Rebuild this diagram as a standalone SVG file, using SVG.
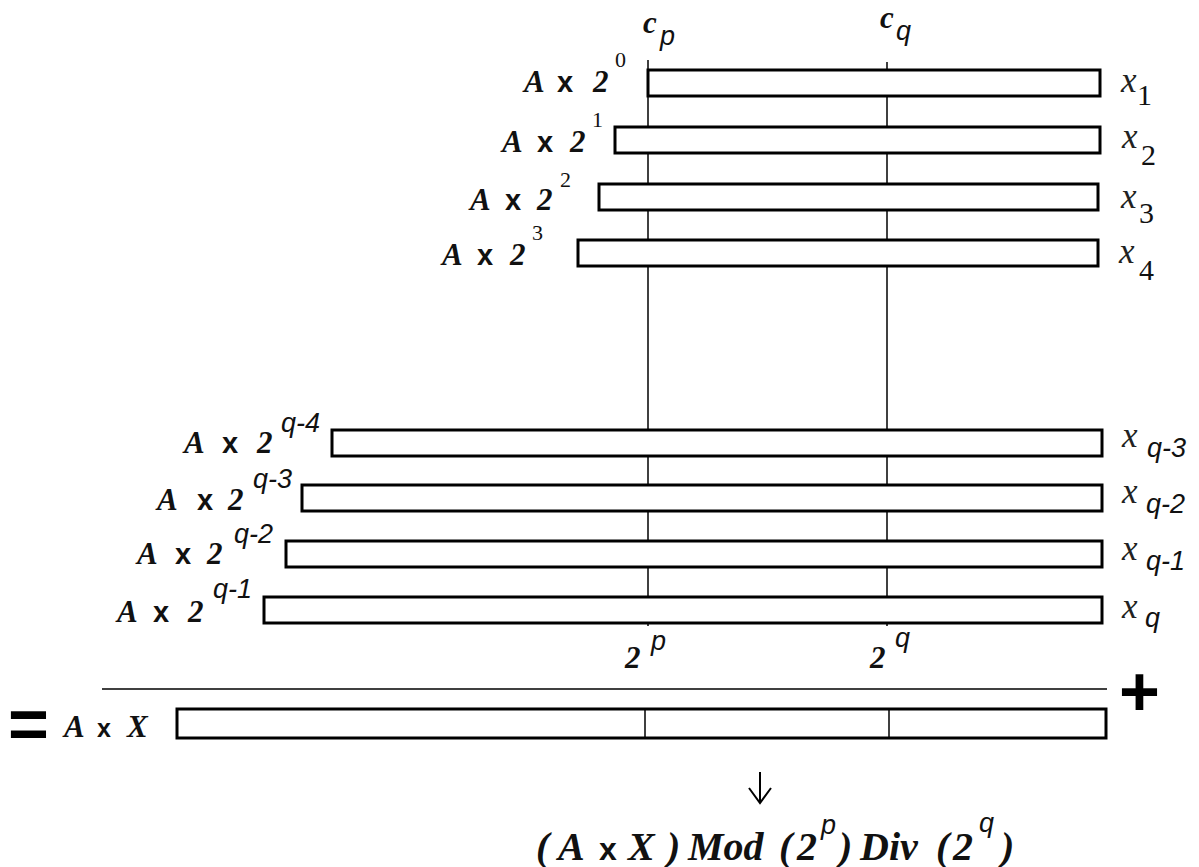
<svg xmlns="http://www.w3.org/2000/svg" width="1199" height="867" viewBox="0 0 1199 867">
<style>
.bar{fill:#fff;stroke:#000;stroke-width:3}
.ln{stroke:#000;stroke-width:1.5;fill:none}
.A{font-family:'Liberation Serif','Times New Roman','DejaVu Serif',serif;font-style:italic;font-weight:bold;font-size:31px;fill:#111}
.m{font-family:'Liberation Sans',Arial,sans-serif;font-weight:bold;font-size:29px;fill:#111}
.sup{font-family:'Liberation Serif','Times New Roman','DejaVu Serif',serif;font-size:22px;fill:#111}
.asup{font-family:'Liberation Sans',Arial,sans-serif;font-style:italic;font-size:27px;fill:#111}
.xv{font-family:'Liberation Serif','Times New Roman','DejaVu Serif',serif;font-style:italic;font-size:35px;fill:#222}
.sub{font-family:'Liberation Serif','Times New Roman','DejaVu Serif',serif;font-size:30px;fill:#111}
.big{font-family:'Liberation Serif','Times New Roman','DejaVu Serif',serif;font-style:italic;font-weight:bold;font-size:40px;fill:#111}
.bm{font-family:'Liberation Sans',Arial,sans-serif;font-weight:bold;font-size:32px;fill:#111}
.sym{font-family:'Liberation Sans',Arial,sans-serif;font-weight:bold;font-size:70px;fill:#000}
</style>
<rect width="1199" height="867" fill="#fff"/>
<g id="connectors">
<line class="ln" x1="648" y1="60" x2="648" y2="626"/>
<line class="ln" x1="887" y1="62" x2="887" y2="626"/>
<line class="ln" x1="102" y1="689" x2="1107" y2="689"/>
<line x1="760" y1="772" x2="760" y2="803" stroke="#000" stroke-width="2"/>
<polyline points="749,788 760,803 771,788" fill="none" stroke="#000" stroke-width="2"/>
</g>
<g id="labels-top">
<text class="A" x="643" y="33">c</text><text class="asup" x="660" y="45">p</text>
<text class="A" x="880" y="28">c</text><text class="asup" x="896" y="40">q</text>
</g>
<g id="row1">
<rect class="bar" x="648" y="70" width="452" height="26"/>
<text class="A" x="524" y="92">A</text><text class="m" x="557" y="92">x</text><text class="A" x="593" y="92">2</text><text class="sup" x="615" y="67">0</text>
<text class="xv" x="1121" y="92">x</text><text class="sub" x="1137" y="105">1</text>
</g>
<g id="row2">
<rect class="bar" x="615" y="127" width="485" height="26"/>
<text class="A" x="502" y="152">A</text><text class="m" x="537" y="152">x</text><text class="A" x="570" y="152">2</text><text class="sup" x="592" y="127">1</text>
<text class="xv" x="1122" y="148">x</text><text class="sub" x="1141" y="165">2</text>
</g>
<g id="row3">
<rect class="bar" x="599" y="184" width="499" height="26"/>
<text class="A" x="470" y="210">A</text><text class="m" x="505" y="210">x</text><text class="A" x="537" y="210">2</text><text class="sup" x="560" y="187">2</text>
<text class="xv" x="1121" y="208">x</text><text class="sub" x="1139" y="223">3</text>
</g>
<g id="row4">
<rect class="bar" x="578" y="240" width="520" height="26"/>
<text class="A" x="442" y="265">A</text><text class="m" x="477" y="265">x</text><text class="A" x="510" y="265">2</text><text class="sup" x="532" y="240">3</text>
<text class="xv" x="1119" y="263">x</text><text class="sub" x="1139" y="280">4</text>
</g>
<g id="row5">
<rect class="bar" x="332" y="430" width="770" height="26"/>
<text class="A" x="184" y="453">A</text><text class="m" x="222" y="453">x</text><text class="A" x="257" y="453">2</text><text class="asup" x="281" y="432">q-4</text>
<text class="xv" x="1122" y="447">x</text><text class="asup" x="1147" y="457">q-3</text>
</g>
<g id="row6">
<rect class="bar" x="302" y="485" width="800" height="26"/>
<text class="A" x="157" y="510">A</text><text class="m" x="197" y="510">x</text><text class="A" x="228" y="510">2</text><text class="asup" x="253" y="488">q-3</text>
<text class="xv" x="1122" y="503">x</text><text class="asup" x="1146" y="513">q-2</text>
</g>
<g id="row7">
<rect class="bar" x="286" y="541" width="816" height="26"/>
<text class="A" x="137" y="564">A</text><text class="m" x="175" y="564">x</text><text class="A" x="207" y="564">2</text><text class="asup" x="234" y="543">q-2</text>
<text class="xv" x="1122" y="560">x</text><text class="asup" x="1146" y="570">q-1</text>
</g>
<g id="row8">
<rect class="bar" x="264" y="597" width="838" height="26"/>
<text class="A" x="117" y="622">A</text><text class="m" x="153" y="622">x</text><text class="A" x="188" y="622">2</text><text class="asup" x="213" y="598">q-1</text>
<text class="xv" x="1122" y="618">x</text><text class="asup" x="1145" y="627">q</text>
</g>
<g id="powers">
<text class="A" x="625" y="668">2</text><text class="asup" x="651" y="650">p</text>
<text class="A" x="870" y="668">2</text><text class="asup" x="895" y="647">q</text>
</g>
<g id="plus">
<text class="sym" x="1119" y="716">+</text>
</g>
<g id="result">
<text class="sym" x="8" y="748">=</text>
<text class="A" x="64" y="737">A</text><text class="m" x="97" y="737" style="font-size:25px">x</text><text class="A" x="127" y="737">X</text>
<rect class="bar" x="177" y="709" width="929" height="29"/>
<line class="ln" x1="645" y1="709" x2="645" y2="738"/>
<line class="ln" x1="889" y1="709" x2="889" y2="738"/>
</g>
<g id="formula">
<text class="big" x="536" y="860">(</text>
<text class="big" x="558" y="860">A</text>
<text class="bm" x="599" y="860">x</text>
<text class="big" x="628" y="860">X</text>
<text class="big" x="667" y="860">)</text>
<text class="big" x="688" y="860">Mod</text>
<text class="big" x="779" y="860">(</text>
<text class="big" x="797" y="860">2</text>
<text class="asup" x="821" y="834">p</text>
<text class="big" x="839" y="860">)</text>
<text class="big" x="860" y="860">Div</text>
<text class="big" x="936" y="860">(</text>
<text class="big" x="953" y="860">2</text>
<text class="asup" x="979" y="832">q</text>
<text class="big" x="1001" y="860">)</text>
</g>
</svg>
